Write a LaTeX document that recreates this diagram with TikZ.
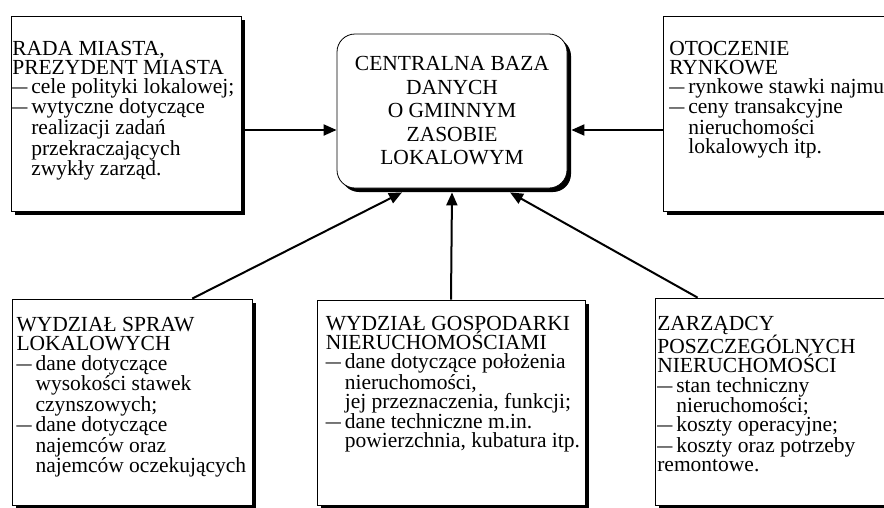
\documentclass[tikz,border=0pt]{standalone}
\usepackage{fontspec}
\usepackage{graphicx}
\setmainfont{Liberation Serif}
\usetikzlibrary{arrows.meta,shadows,calc}
\newcommand{\kr}{\makebox[19pt][l]{\scalebox{1.4}[1]{–}}}
\newcommand{\wc}{\hspace*{19pt}}

\begin{document}
\begin{tikzpicture}[x=1pt,y=-1pt,
  ramka/.style={draw, line width=0.8pt, fill=white, inner sep=0pt,
    drop shadow={opacity=1, fill=black, shadow xshift=4pt, shadow yshift=-4pt}},
  opis/.style={anchor=north west, align=left, inner sep=0pt,
    font=\fontsize{21.5}{19.2}\selectfont},
  strz/.style={line width=2pt, -{Triangle[length=13pt,width=11pt]}}]
\clip (0,0) rectangle (884,507);
\fill[white] (0,0) rectangle (884,507);
\node[ramka, rounded corners=18pt, minimum width=230pt, minimum height=154pt,
  align=center, font=\fontsize{21.5}{23.5}\selectfont] (baza) at (452,111)
  {CENTRALNA BAZA\\DANYCH\\O GMINNYM\\ZASOBIE\\LOKALOWYM};
\node[ramka, minimum width=230pt, minimum height=195pt] (rada) at (126,113.5) {};
\node[ramka, minimum width=237pt, minimum height=195pt] (otoczenie) at (781.5,113.5) {};
\node[ramka, minimum width=240pt, minimum height=206pt] (spraw) at (132,402) {};
\node[ramka, minimum width=268pt, minimum height=205pt] (gosp) at (451,402.5) {};
\node[ramka, minimum width=245pt, minimum height=207pt] (zarz) at (777.5,401.5) {};
\node[opis] (radaopis) at ([xshift=1.5pt,yshift=-25pt]rada.north west)
  {RADA MIASTA,\\PREZYDENT MIASTA\\\kr cele polityki lokalowej;\\\kr wytyczne dotyczące\\
   \wc realizacji zadań\\\wc przekraczających\\\wc zwykły zarząd.};
\node[opis] (otoczenieopis) at ([xshift=6.5pt,yshift=-25pt]otoczenie.north west)
  {OTOCZENIE\\RYNKOWE\\\kr rynkowe stawki najmu\\\kr ceny transakcyjne\\
   \wc nieruchomości\\\wc lokalowych itp.};
\node[opis] (sprawopis) at ([xshift=4.7pt,yshift=-18.6pt]spraw.north west)
  {WYDZIAŁ SPRAW\\LOKALOWYCH\\\kr dane dotyczące\\\wc wysokości stawek\\\wc czynszowych;\\
   \kr dane dotyczące\\\wc najemców oraz\\\wc najemców oczekujących};
\node[opis] (gospopis) at ([xshift=9pt,yshift=-16pt]gosp.north west)
  {WYDZIAŁ GOSPODARKI\\NIERUCHOMOŚCIAMI\\\kr dane dotyczące położenia\\\wc nieruchomości,\\
   \wc jej przeznaczenia, funkcji;\\\kr dane techniczne m.in.\\\wc powierzchnia, kubatura itp.};
\node[opis] (zarzopis) at ([xshift=2.5pt,yshift=-18pt]zarz.north west)
  {ZARZĄDCY\\POSZCZEGÓLNYCH\\NIERUCHOMOŚCI\\\kr stan techniczny\\\wc nieruchomości;\\
   \kr koszty operacyjne;\\\kr koszty oraz potrzeby\\remontowe.};
\coordinate (wejscie) at (452,130);
\draw[strz] (rada.east |- wejscie) -- (baza.west |- wejscie);
\draw[strz] (otoczenie.west |- wejscie) -- ([xshift=4pt]baza.east |- wejscie);
\draw[strz] ($(spraw.north west)!0.75!(spraw.north east)$) -- ([xshift=-50pt,yshift=-4pt]baza.south);
\draw[strz] (gosp.north) -- ([yshift=-4pt]baza.south);
\draw[strz] ([xshift=43pt]zarz.north west) -- ([xshift=58pt,yshift=-4pt]baza.south);
\end{tikzpicture}
\end{document}
